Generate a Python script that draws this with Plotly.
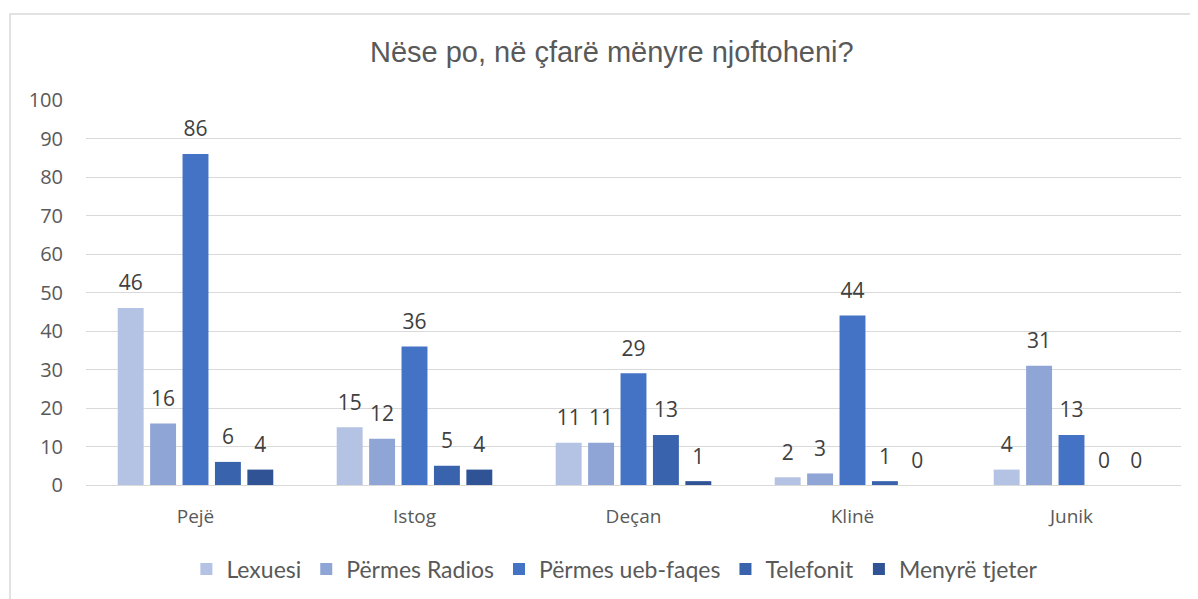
import plotly.graph_objects as go

cities = ["Pejë", "Istog", "Deçan", "Klinë", "Junik"]

lexuesi = [46, 15, 11, 2, 4]
radios = [16, 12, 11, 3, 31]
ueb_faqes = [86, 36, 29, 44, 13]
telefonit = [6, 5, 13, 1, 0]
tjeter = [4, 4, 1, 0, 0]

series = [
    ("Lexuesi", lexuesi, "#B4C2E3"),
    ("Përmes Radios", radios, "#8FA5D5"),
    ("Përmes ueb-faqes", ueb_faqes, "#4472C4"),
    ("Telefonit", telefonit, "#3A63AE"),
    ("Menyrë tjeter", tjeter, "#2F5394"),
]

fig = go.Figure()

for name, vals, color in series:
    fig.add_trace(go.Bar(
        x=cities,
        y=vals,
        name=name,
        marker=dict(color=color, line=dict(width=0)),
    ))

# value labels: invisible markers push the text a bit further above the bars
for name, vals, color in series:
    fig.add_trace(go.Scatter(
        x=cities,
        y=vals,
        mode="markers+text",
        text=vals,
        textposition="top center",
        marker=dict(size=18, opacity=0),
        textfont=dict(size=21, color="#404040", family="Open Sans"),
        cliponaxis=False,
        showlegend=False,
        hoverinfo="skip",
    ))

# the page body adds 8px, margins below account for it
fig.update_layout(
    width=1198,
    height=599,
    barmode="group",
    scattermode="group",
    bargap=0.26,
    scattergap=0.26,
    bargroupgap=0.2,
    paper_bgcolor="white",
    plot_bgcolor="white",
    font=dict(family="Open Sans", color="#595959", size=20),
    title=dict(
        text="Nëse po, në çfarë mënyre njoftoheni?",
        x=0.504,
        xanchor="center",
        y=0.927,
        yanchor="middle",
        font=dict(size=29, color="#595959", family="Liberation Sans"),
    ),
    margin=dict(l=78, r=25, t=92, b=122),
    legend=dict(
        orientation="h",
        x=0.483,
        xanchor="center",
        y=-0.218,
        yanchor="middle",
        font=dict(size=23, color="#595959", family="Lato"),
        itemwidth=30,
        traceorder="normal",
    ),
    xaxis=dict(
        showgrid=False,
        showline=True,
        linecolor="#D9D9D9",
        linewidth=1,
        ticks="",
        ticklabelstandoff=14,
        tickfont=dict(size=19, color="#595959"),
    ),
    yaxis=dict(
        range=[0, 100],
        dtick=10,
        showgrid=True,
        gridcolor="#D9D9D9",
        gridwidth=1,
        zeroline=False,
        showline=False,
        ticks="",
        ticklabelstandoff=22,
        tickfont=dict(size=20, color="#595959"),
    ),
    showlegend=True,
)

# outer chart border, partly cut off at the right and bottom
fig.add_shape(
    type="rect",
    xref="paper",
    yref="paper",
    x0=-0.0694,
    x1=1.05,
    y0=-0.35,
    y1=1.2234,
    line=dict(color="#D9D9D9", width=1.5),
    layer="below",
)

fig.write_html("out.html")
